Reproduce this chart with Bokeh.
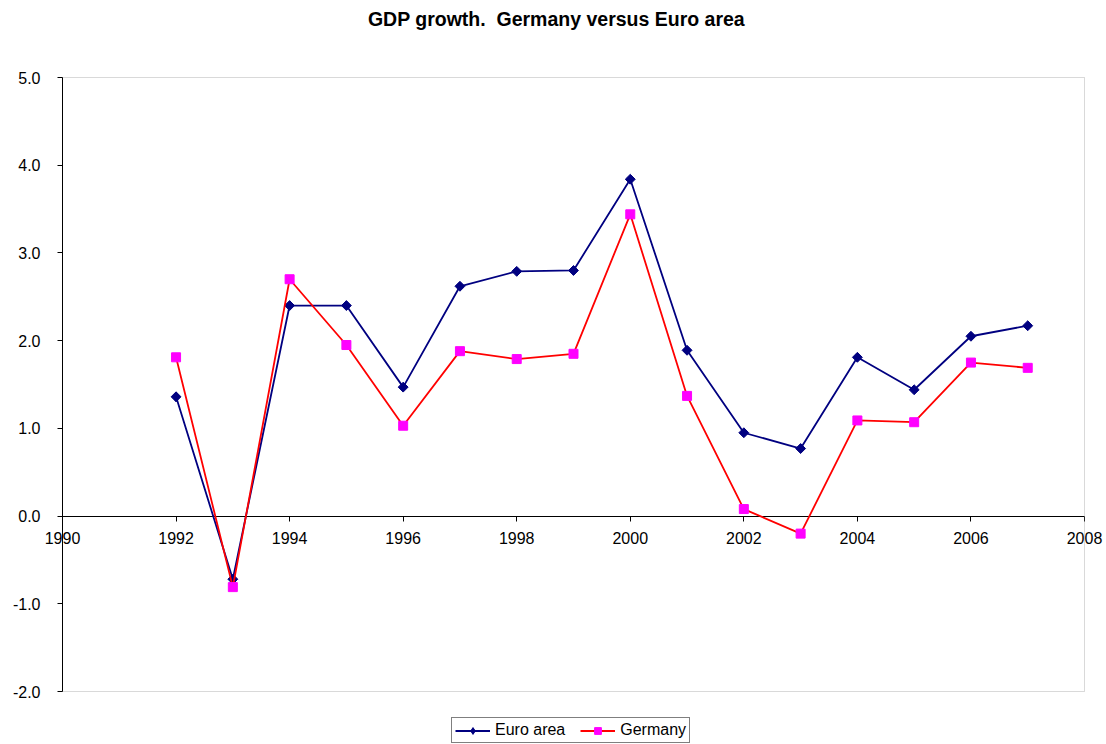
from bokeh.plotting import figure
from bokeh.models import (Range1d, FixedTicker, Legend, LegendItem, NumeralTickFormatter,
                          LinearAxis, BoxAnnotation, Label, CDSView, IndexFilter, ColumnDataSource)
from bokeh.embed import file_html
from bokeh.resources import INLINE

years = list(range(1992, 2008))
euro_area = [1.36, -0.72, 2.40, 2.40, 1.47, 2.62, 2.79, 2.80, 3.84, 1.89, 0.95, 0.77, 1.81, 1.44, 2.05, 2.17]
germany = [1.81, -0.81, 2.70, 1.95, 1.03, 1.88, 1.79, 1.85, 3.44, 1.37, 0.08, -0.20, 1.09, 1.07, 1.75, 1.69]
x_ticks = list(range(1990, 2009, 2))
y_ticks = [-2, -1, 0, 1, 2, 3, 4, 5]
title_text = "GDP growth.\u00a0 Germany versus Euro area"

FONT = "Liberation Sans"
W, H = 1106, 744
# frame covers the full canvas; chart box sits at px 62..1084 (x), 77..691 (y)
xpx = (1084 - 62) / 18.0
ypx = (691 - 77) / 7.0
x_range = Range1d(1990 - 62 / xpx, 2008 + (W - 1084) / xpx)
y_range = Range1d(-2 - (H - 691) / ypx, 5 + 77 / ypx)

p = figure(width=W, height=H, output_backend="svg", toolbar_location=None,
           x_range=x_range, y_range=y_range,
           x_axis_location=None, y_axis_location=None,
           min_border=0, min_border_left=0, min_border_right=0,
           min_border_top=0, min_border_bottom=0)
p.xgrid.visible = False
p.ygrid.visible = False
p.outline_line_color = None
p.background_fill_color = "white"
p.border_fill_color = "white"

box = BoxAnnotation(left=1990, right=2008, bottom=-2, top=5,
                    fill_alpha=0, fill_color=None, line_color="#808080", line_width=1,
                    level="underlay")
p.add_layout(box)

xa = LinearAxis(fixed_location=0, bounds=(1990, 2008))
xa.ticker = FixedTicker(ticks=x_ticks)
xa.minor_tick_line_color = None
xa.major_tick_in = 0
xa.major_tick_out = 5
xa.major_label_standoff = 11
xa.major_label_text_font = FONT
xa.major_label_text_font_size = "16px"
xa.major_label_text_color = "black"
xa.axis_line_color = "black"
xa.major_tick_line_color = "black"
xa.level = "underlay"
p.add_layout(xa, "below")

ya = LinearAxis(fixed_location=1990, bounds=(-2, 5))
ya.ticker = FixedTicker(ticks=y_ticks)
ya.formatter = NumeralTickFormatter(format="0.0")
ya.minor_tick_line_color = None
ya.major_tick_in = 0
ya.major_tick_out = 5
ya.major_label_standoff = 17
ya.major_label_text_font = FONT
ya.major_label_text_font_size = "16px"
ya.major_label_text_color = "black"
ya.axis_line_color = "black"
ya.major_tick_line_color = "black"
p.add_layout(ya, "left")

src = ColumnDataSource(data=dict(year=years, euro=euro_area, ger=germany))

l1 = p.line("year", "euro", source=src, line_color="#000080", line_width=1.8)
# legend key glyph (diamond, as in the reference legend); its single point hides under the first marker
m1_key = p.scatter("year", "euro", source=src, view=CDSView(filter=IndexFilter(indices=[0])),
                   marker="diamond", size=9.5, fill_color="#000080", line_color="#000080")
m1 = p.scatter("year", "euro", source=src, marker="square", angle=0.785398, size=7,
               fill_color="#000080", line_color="#000080")
l2 = p.line("year", "ger", source=src, line_color="#FF0000", line_width=1.8)
m2 = p.scatter("year", "ger", source=src, marker="square", size=9,
               fill_color="#FF00FF", line_color="#FF00FF")

title = Label(x=W / 2 + 3, y=H - 18, x_units="screen", y_units="screen", text=title_text,
              text_align="center", text_baseline="middle", text_font=FONT,
              text_font_size="19.5px", text_font_style="bold", text_color="black")
p.add_layout(title)

legend = Legend(items=[LegendItem(label="Euro area", renderers=[l1, m1_key]),
                       LegendItem(label="Germany", renderers=[l2, m2])],
                orientation="horizontal", location=(451, 1))
legend.border_line_color = "black"
legend.border_line_width = 1
legend.background_fill_color = "white"
legend.label_text_font = FONT
legend.label_text_font_size = "16px"
legend.label_text_color = "black"
legend.glyph_width = 35
legend.glyph_height = 17
legend.padding = 3
legend.margin = 0
legend.spacing = 15
legend.label_standoff = 5
legend.label_height = 17
legend.label_width = 10
p.add_layout(legend, "center")

open("out.html", "w").write(file_html(p, INLINE))
